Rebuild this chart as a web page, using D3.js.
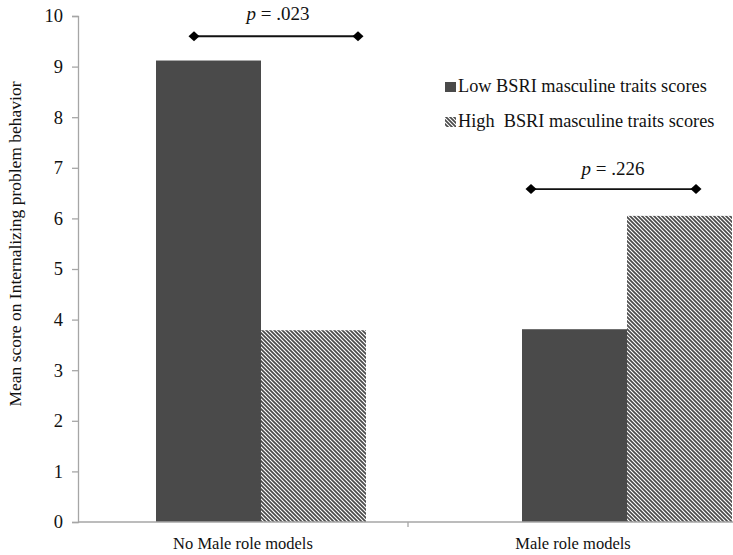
<!DOCTYPE html>
<html>
<head>
<meta charset="utf-8">
<script src="https://cdn.jsdelivr.net/npm/d3@7"></script>
<style>
  html, body { margin: 0; padding: 0; background: #fff; }
  svg { display: block; }
</style>
</head>
<body>
<svg id="chart" width="733" height="555"></svg>
<script>
// ---- data ----
const categories = ["No Male role models", "Male role models"];
const seriesNames = ["Low BSRI masculine traits scores", "High  BSRI masculine traits scores"];
const lowScores = [9.12, 3.81];
const highScores = [3.79, 6.05];
const yTicks = [0, 1, 2, 3, 4, 5, 6, 7, 8, 9, 10];
const pLabels = ["p = .023", "p = .226"];
const pLevels = [9.6, 6.58];

// ---- layout ----
const FONT = "Liberation Serif";
const svg = d3.select("#chart");
const plotLeft = 78, plotBottom = 522, plotTop = 16;
const y = d3.scaleLinear().domain([0, 10]).range([plotBottom, plotTop]);
// category axis (labels)
const xCat = d3.scaleBand().domain(categories).range([plotLeft, 738]);
// bar groups (shifted relative to the category labels, as in the original)
const xGroup = d3.scaleBand().domain(categories).range([plotLeft, 810]);
const groupW = 210;
const xSeries = d3.scaleBand().domain([0, 1]).range([0, groupW]);

// hatch pattern
const defs = svg.append("defs");
const pat = defs.append("pattern")
  .attr("id", "hatch").attr("patternUnits", "userSpaceOnUse")
  .attr("width", 4).attr("height", 4);
pat.append("rect").attr("width", 4).attr("height", 4).attr("fill", "#ffffff");
pat.append("path").attr("d", "M-1,-1 L5,5 M-1,3 L1,5 M3,-1 L5,1")
  .attr("stroke", "#4a4a4a").attr("stroke-width", 1.7);

// y axis
const yAxis = svg.append("g").attr("transform", `translate(${plotLeft},0)`)
  .call(d3.axisLeft(y).tickValues(yTicks).tickSize(6).tickPadding(9).tickFormat(d3.format("d")));
yAxis.attr("font-family", null);
yAxis.select(".domain").attr("stroke", "#a6a6a6").attr("stroke-width", 1.3);
yAxis.selectAll(".tick line").attr("stroke", "#a6a6a6").attr("stroke-width", 1.3);
yAxis.selectAll(".tick text").attr("font-size", 18.5).attr("fill", "#111")
  .style("font-family", FONT);

// bars
const groups = svg.append("g").selectAll("g").data(categories).join("g")
  .attr("transform", d => `translate(${xGroup(d) + (xGroup.bandwidth() - groupW) / 2},0)`);
groups.append("rect")
  .attr("x", xSeries(0)).attr("width", xSeries.bandwidth())
  .attr("y", (d, i) => y(lowScores[i])).attr("height", (d, i) => y(0) - y(lowScores[i]))
  .attr("fill", "#4a4a4a");
groups.append("rect")
  .attr("x", xSeries(1)).attr("width", xSeries.bandwidth())
  .attr("y", (d, i) => y(highScores[i])).attr("height", (d, i) => y(0) - y(highScores[i]))
  .attr("fill", "url(#hatch)");

// x axis
const xAxis = svg.append("g").attr("transform", `translate(0,${plotBottom})`);
xAxis.append("line").attr("x1", plotLeft).attr("x2", 733).attr("y1", 0).attr("y2", 0)
  .attr("stroke", "#a6a6a6").attr("stroke-width", 1.3);
xAxis.append("line").attr("x1", xCat(categories[1])).attr("x2", xCat(categories[1]))
  .attr("y1", 0).attr("y2", 5).attr("stroke", "#a6a6a6").attr("stroke-width", 1.3);
xAxis.selectAll("text").data(categories).join("text")
  .attr("x", d => xCat(d) + xCat.bandwidth() / 2).attr("y", 27)
  .attr("text-anchor", "middle").attr("font-size", 16.5).attr("fill", "#111")
  .style("font-family", FONT).text(d => d);

// y title
svg.append("text")
  .attr("transform", "translate(21,244) rotate(-90)")
  .attr("text-anchor", "middle").attr("font-size", 17.5).attr("fill", "#111")
  .style("font-family", FONT)
  .text("Mean score on Internalizing problem behavior");

// significance brackets
const brackets = [
  { x1: 38, x2: 202, tx: 122, lvl: pLevels[0], label: pLabels[0], dy: -16 },
  { x1: 9, x2: 174, tx: 91, lvl: pLevels[1], label: pLabels[1], dy: -14 }
];
brackets.forEach((b, i) => {
  const gx = xGroup(categories[i]) + (xGroup.bandwidth() - groupW) / 2;
  const yy = y(b.lvl);
  const g = svg.append("g");
  g.append("line").attr("x1", gx + b.x1).attr("x2", gx + b.x2).attr("y1", yy).attr("y2", yy)
    .attr("stroke", "#111").attr("stroke-width", 1.8);
  [b.x1, b.x2].forEach(xx => {
    g.append("path")
      .attr("d", `M${gx + xx - 5.5},${yy} L${gx + xx},${yy - 5} L${gx + xx + 5.5},${yy} L${gx + xx},${yy + 5} Z`)
      .attr("fill", "#000");
  });
  const t = g.append("text").attr("x", gx + b.tx).attr("y", yy + b.dy)
    .attr("text-anchor", "middle").attr("font-size", 19).attr("fill", "#111")
    .style("font-family", FONT);
  t.append("tspan").attr("font-style", "italic").text("p");
  t.append("tspan").text(b.label.slice(1));
});

// legend
const legend = svg.append("g").attr("transform", "translate(445,0)");
const legendRows = [
  { name: seriesNames[0], fill: "#4a4a4a", base: 92 },
  { name: seriesNames[1], fill: "url(#hatch)", base: 127 }
];
legendRows.forEach(r => {
  legend.append("rect").attr("x", 0).attr("y", r.base - 10).attr("width", 11).attr("height", 10)
    .attr("fill", r.fill);
  legend.append("text").attr("x", 13).attr("y", r.base).attr("font-size", 18.3)
    .attr("fill", "#111").attr("xml:space", "preserve")
    .style("white-space", "pre").style("font-family", FONT).text(r.name);
});
</script>
</body>
</html>
